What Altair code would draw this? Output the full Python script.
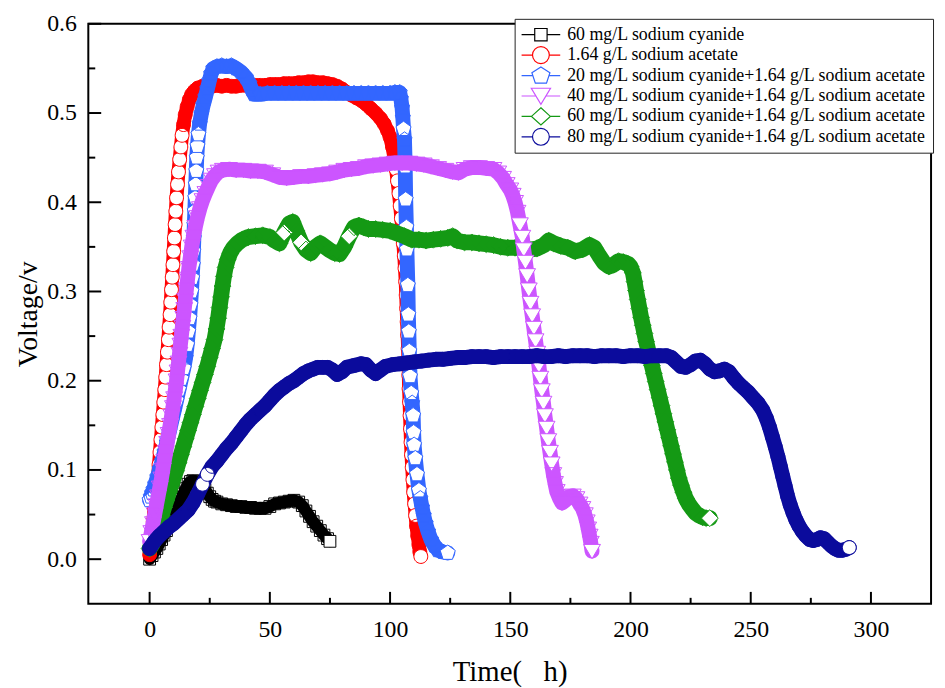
import altair as alt
import pandas as pd

SERIES = [
    "60 mg/L sodium cyanide",
    "1.64 g/L sodium acetate",
    "20 mg/L sodium cyanide+1.64 g/L sodium acetate",
    "40 mg/L sodium cyanide+1.64 g/L sodium acetate",
    "60 mg/L sodium cyanide+1.64 g/L sodium acetate",
    "80 mg/L sodium cyanide+1.64 g/L sodium acetate",
]
COLORS = ["#000000", "#ff0000", "#3366ff", "#cc55ff", "#149914", "#0b0b9c"]

# (time h, voltage V)
black = [(0,0.0),(1,0.004),(2,0.008),(3,0.012),(4,0.017),(5,0.022),(6,0.027),(7,0.032),(8,0.038),(9,0.043),
         (10,0.049),(11,0.055),(12,0.061),(13,0.067),(14,0.073),(15,0.079),(16,0.084),(17,0.087),(18,0.088),(19,0.087),
         (20,0.085),(21,0.083),(22,0.081),(23,0.078),(24,0.074),(25,0.07),(26,0.067),(27,0.065),(28,0.064),(30,0.062),
         (32,0.061),(34,0.06),(36,0.059),(38,0.059),(40,0.058),(42,0.058),(44,0.057),(46,0.057),(48,0.057),(50,0.059),
         (52,0.062),(54,0.063),(56,0.064),(58,0.065),(60,0.066),(62,0.064),(63.5,0.06),(65,0.054),(66.5,0.048),(68,0.042),
         (69.5,0.037),(71,0.032),(72.5,0.027),(74,0.023),(75,0.02)]

red = [(0,0.005),(0.5,0.015),(1,0.028),(1.5,0.042),(2,0.055),(2.5,0.068),(3,0.08),(3.5,0.093),(3.9,0.106),(4.3,0.12),
       (4.7,0.134),(5.1,0.148),(5.5,0.162),(5.9,0.176),(6.3,0.19),(6.7,0.204),(7,0.218),(7.4,0.232),(7.8,0.246),(8.1,0.26),
       (8.5,0.274),(8.8,0.288),(9.1,0.302),(9.4,0.316),(9.7,0.33),(10,0.345),(10.3,0.36),(10.6,0.375),(10.9,0.39),(11.2,0.405),
       (11.6,0.42),(12,0.434),(12.5,0.448),(13,0.462),(13.5,0.475),(14.1,0.487),(14.8,0.498),(15.6,0.507),(16.5,0.515),(17.5,0.521),
       (18.7,0.525),(20,0.528),(22,0.53),(24,0.531),(26,0.53),(28,0.531),(30,0.53),(32,0.531),(34,0.53),(36,0.53),
       (38,0.531),(40,0.531),(42,0.53),(44,0.531),(46,0.531),(48,0.531),(50,0.532),(52,0.532),(54,0.532),(56,0.533),
       (58,0.533),(60,0.533),(62,0.534),(64,0.534),(66,0.535),(68,0.535),(70,0.534),(72,0.534),(74,0.533),(76,0.532),
       (78,0.53),(80,0.527),(82,0.523),(84,0.52),(86,0.517),(88,0.514),(90,0.51),(92,0.505),(94,0.5),(96,0.494),
       (97.5,0.488),(99,0.48),(100,0.473),(101,0.462),(101.8,0.45),(102.5,0.437),(103.1,0.424),(103.7,0.41),(104.2,0.396),(104.7,0.382),
       (105.1,0.368),(105.5,0.354),(105.9,0.34),(106.2,0.326),(106.5,0.311),(106.7,0.296),(106.9,0.281),(107.1,0.266),(107.3,0.251),(107.5,0.236),
       (107.6,0.221),(107.8,0.206),(107.9,0.191),(108.1,0.176),(108.3,0.161),(108.5,0.146),(108.7,0.131),(108.9,0.117),(109.2,0.103),(109.5,0.089),
       (109.8,0.075),(110.2,0.062),(110.6,0.049),(111,0.037),(111.5,0.026),(112,0.016),(112.4,0.008),(112.8,0.003)]

blue = [(0,0.066),(0.5,0.07),(1,0.074),(1.6,0.078),(2.3,0.084),(3.2,0.092),(4.2,0.101),(5.2,0.11),(6.2,0.12),(7.2,0.131),
        (8.2,0.143),(9.2,0.155),(10.2,0.166),(11.2,0.178),(12.2,0.19),(13.2,0.202),(14.2,0.214),(15,0.226),(15.6,0.24),(16.1,0.255),
        (16.6,0.27),(17,0.285),(17.4,0.3),(17.7,0.315),(18,0.33),(18.2,0.345),(18.4,0.36),(18.6,0.375),(18.8,0.39),(19,0.405),
        (19.2,0.42),(19.4,0.435),(19.6,0.45),(19.9,0.463),(20.3,0.476),(20.8,0.488),(21.5,0.499),(22.3,0.509),(23.2,0.518),(24,0.527),
        (24.8,0.536),(25.6,0.544),(26.5,0.55),(28,0.552),(30,0.553),(32,0.552),(34,0.553),(36,0.55),(38,0.546),(40,0.54),
        (41.5,0.533),(42.5,0.526),(43.5,0.521),(46,0.521),(49,0.522),(52,0.522),(55,0.522),(58,0.522),(61,0.522),(64,0.522),
        (67,0.522),(70,0.522),(73,0.522),(76,0.522),(79,0.522),(82,0.522),(85,0.522),(88,0.522),(91,0.522),(94,0.522),
        (97,0.522),(100,0.522),(102,0.523),(104,0.523),(104.5,0.516),(105,0.506),(105.3,0.495),(105.6,0.482),(106,0.47),(106.3,0.44),
        (106.5,0.403),(106.8,0.372),(107,0.347),(107.4,0.307),(107.6,0.274),(107.8,0.255),(108,0.233),(108.3,0.205),(108.8,0.186),(109.2,0.175),
        (109.6,0.161),(109.8,0.142),(110,0.128),(110.5,0.113),(111.2,0.095),(112,0.077),(112.6,0.068),(113.3,0.058),(114,0.049),(114.8,0.04),
        (115.8,0.031),(117,0.022),(118.5,0.015),(120,0.01),(122,0.008),(124,0.007)]

purple = [(0,0.02),(0.7,0.03),(1.4,0.04),(2.1,0.05),(2.8,0.06),(3.5,0.07),(4.2,0.08),(4.9,0.09),(5.5,0.1),(6.1,0.11),
          (6.7,0.12),(7.3,0.13),(7.9,0.14),(8.5,0.15),(9.1,0.16),(9.7,0.17),(10.2,0.18),(10.7,0.19),(11.2,0.2),(11.6,0.21),
          (12,0.22),(12.4,0.23),(12.8,0.24),(13.2,0.25),(13.6,0.26),(14,0.27),(14.4,0.28),(14.8,0.29),(15.3,0.302),(15.8,0.314),
          (16.3,0.326),(16.9,0.338),(17.5,0.35),(18.2,0.361),(19,0.372),(19.9,0.383),(20.9,0.393),(22,0.402),(23.2,0.41),(24.5,0.418),
          (25.8,0.425),(27.2,0.43),(28.7,0.434),(30.5,0.436),(33,0.437),(36,0.436),(39,0.436),(42,0.435),(45,0.435),(48,0.434),
          (51,0.431),(54,0.428),(57,0.427),(60,0.428),(63,0.429),(66,0.429),(69,0.43),(72,0.431),(75,0.432),(78,0.434),
          (81,0.436),(84,0.437),(87,0.438),(90,0.44),(93,0.441),(96,0.442),(99,0.443),(102,0.444),(105,0.444),(108,0.444),
          (111,0.443),(114,0.442),(117,0.44),(120,0.438),(123,0.436),(126,0.434),(128.5,0.433),(131,0.437),(134,0.439),(137,0.439),
          (140,0.438),(143,0.437),(145,0.433),(147,0.427),(148.5,0.42),(150,0.414),(151,0.408),(152,0.4),(153,0.389),(154,0.375),
          (155,0.361),(155.6,0.347),(156.3,0.333),(157,0.318),(157.7,0.302),(158.4,0.287),(159.1,0.273),(159.8,0.259),(160.5,0.245),(161.2,0.231),
          (161.9,0.217),(162.5,0.203),(163.1,0.189),(163.8,0.175),(164.4,0.161),(165.1,0.147),(165.8,0.133),(166.5,0.12),(167.2,0.107),(167.9,0.095),
          (168.6,0.085),(169.3,0.076),(170.5,0.068),(171.5,0.063),(173,0.066),(174.5,0.07),(176,0.071),(177.5,0.068),(178.8,0.062),(180,0.057),
          (181,0.05),(181.8,0.042),(182.4,0.034),(183,0.026),(183.5,0.018),(184,0.009)]

green = [(0,0.012),(1,0.016),(2,0.022),(3,0.03),(4,0.04),(5,0.049),(6,0.058),(7,0.066),(8,0.075),(9,0.083),
         (10,0.091),(11,0.099),(12,0.108),(13,0.117),(14,0.126),(15,0.135),(16,0.144),(17,0.153),(18,0.162),(19,0.171),
         (20,0.18),(21,0.189),(22,0.198),(23,0.207),(24,0.216),(25,0.226),(26,0.236),(27,0.246),(27.8,0.258),(28.5,0.27),
         (29.1,0.282),(29.7,0.294),(30.3,0.306),(30.9,0.317),(31.6,0.327),(32.5,0.336),(33.5,0.343),(34.8,0.349),(36.5,0.354),(38.5,0.358),
         (41,0.361),(44,0.362),(47,0.363),(50,0.361),(52,0.357),(54,0.354),(56,0.366),(58,0.376),(59.5,0.378),(61,0.368),
         (63,0.355),(65,0.347),(67,0.343),(69,0.35),(71,0.354),(73,0.35),(75,0.346),(77,0.343),(79,0.342),(81,0.35),
         (83,0.362),(85,0.372),(87,0.374),(89,0.372),(91,0.37),(94,0.37),(97,0.369),(100,0.368),(103,0.365),(106,0.362),
         (109,0.358),(112,0.358),(115,0.357),(118,0.358),(121,0.359),(124,0.36),(126,0.362),(128,0.357),(131,0.355),(134,0.355),
         (137,0.354),(140,0.353),(143,0.352),(146,0.35),(149,0.349),(152,0.349),(155,0.348),(158,0.347),(161,0.348),(164,0.352),
         (166,0.357),(168,0.354),(171,0.351),(174,0.349),(177,0.345),(180,0.347),(183,0.352),(185,0.349),(187,0.34),(189,0.332),
         (191,0.328),(193,0.33),(195,0.334),(197,0.333),(199,0.331),(200,0.328),(201,0.321),(201.7,0.311),(202.3,0.301),(203,0.291),
         (203.7,0.281),(204.4,0.271),(205.1,0.262),(205.8,0.253),(206.5,0.244),(207.3,0.235),(208.1,0.226),(208.9,0.217),(209.7,0.208),(210.5,0.199),
         (211.3,0.19),(212.1,0.181),(212.9,0.172),(213.7,0.163),(214.5,0.154),(215.3,0.145),(216.1,0.136),(216.9,0.127),(217.7,0.118),(218.5,0.109),
         (219.3,0.1),(220.1,0.091),(221,0.083),(222,0.075),(223,0.068),(224.2,0.062),(225.5,0.057),(227,0.052),(228.5,0.049),(230,0.047),
         (231.5,0.046),(233,0.046)]

navy = [(0,0.012),(2,0.02),(4,0.026),(6,0.031),(8,0.036),(10,0.04),(12,0.045),(14,0.05),(16,0.055),(18,0.063),
        (20,0.073),(22,0.084),(24,0.095),(26,0.104),(28,0.11),(30,0.117),(32,0.124),(34,0.13),(36,0.137),(38,0.144),
        (40,0.151),(42,0.157),(44,0.162),(46,0.167),(48,0.172),(50,0.178),(52,0.184),(54,0.189),(56,0.193),(58,0.197),
        (60,0.2),(62,0.204),(64,0.208),(66,0.211),(68,0.213),(70,0.215),(72,0.215),(74,0.215),(76,0.212),(78,0.207),
        (80,0.21),(82,0.215),(85,0.217),(88,0.219),(90,0.218),(92,0.212),(94,0.208),(96,0.212),(98,0.216),(101,0.218),
        (104,0.219),(107,0.22),(110,0.221),(113,0.222),(116,0.223),(119,0.224),(122,0.224),(125,0.225),(128,0.226),(131,0.226),
        (134,0.227),(137,0.227),(140,0.227),(143,0.226),(146,0.227),(149,0.227),(152,0.227),(155,0.227),(158,0.227),(161,0.228),
        (164,0.227),(167,0.227),(170,0.228),(173,0.227),(176,0.228),(179,0.228),(182,0.228),(185,0.227),(188,0.228),(191,0.228),
        (194,0.228),(197,0.227),(200,0.228),(203,0.228),(206,0.227),(209,0.228),(212,0.228),(215,0.228),(217,0.226),(219,0.221),
        (221,0.216),(223,0.215),(225,0.218),(227,0.222),(229,0.223),(231,0.219),(233,0.213),(235,0.21),(237,0.211),(239,0.213),
        (241,0.21),(243,0.203),(245,0.197),(247,0.192),(249,0.187),(251,0.181),(253,0.175),(255,0.167),(256.5,0.158),(257.8,0.148),
        (259,0.137),(260.2,0.126),(261.3,0.115),(262.3,0.104),(263.3,0.093),(264.3,0.082),(265.3,0.071),(266.4,0.061),(267.6,0.052),(268.8,0.044),
        (270.1,0.037),(271.5,0.031),(273,0.026),(274.5,0.022),(276,0.021),(277.5,0.022),(279,0.024),(280.5,0.023),(282,0.019),(283.5,0.015),
        (285,0.012),(286.5,0.01),(288,0.01),(289.5,0.011),(291,0.013)]

SERIES_DATA = [black, red, blue, purple, green, navy]
DRAW_ORDER = [0, 1, 2, 4, 3, 5]

X_MAJOR = [0, 50, 100, 150, 200, 250, 300]
X_MINOR = [25, 75, 125, 175, 225, 275]
Y_MAJOR = [0.0, 0.1, 0.2, 0.3, 0.4, 0.5, 0.6]
Y_MINOR = [0.05, 0.15, 0.25, 0.35, 0.45, 0.55]

# marker outlines (unit = half of sqrt(size))
MARKERS = [
    "M-0.7,-0.7H0.7V0.7H-0.7Z",
    "M0.82,0A0.82,0.82,0,1,1,-0.82,0A0.82,0.82,0,1,1,0.82,0Z",
    "M0,-0.94L0.894,-0.29L0.553,0.76L-0.553,0.76L-0.894,-0.29Z",
    "M-1,-0.8H1L0,0.9Z",
    "M0,-1L1,0L0,1L-1,0Z",
    "M0.82,0A0.82,0.82,0,1,1,-0.82,0A0.82,0.82,0,1,1,0.82,0Z",
]
BAND = [12, 14, 15, 15, 16, 15]
LEGEND_SYMBOLS = [
    "M-2.25,0H-0.72M0.72,0H2.25M-0.72,-0.72H0.72V0.72H-0.72Z",
    "M-2.25,0H-0.98M0.98,0H2.25M0.98,0A0.98,0.98,0,1,1,-0.98,0A0.98,0.98,0,1,1,0.98,0Z",
    "M-2.25,0H-0.94M0.94,0H2.25M0,-1.0L1.05,-0.32L0.65,0.88L-0.65,0.88L-1.05,-0.32Z",
    "M-2.25,0H-0.58M0.58,0H2.25M-1.12,-0.9H1.12L0,0.98Z",
    "M-2.25,0H-1.1M1.1,0H2.25M0,-1.0L1.1,0L0,1.0L-1.1,0Z",
    "M-2.25,0H-0.98M0.98,0H2.25M0.98,0A0.98,0.98,0,1,1,-0.98,0A0.98,0.98,0,1,1,0.98,0Z",
]

FONT = "Liberation Serif"
TOP = 13
W, H = 850, 598 - TOP
x_scale = alt.Scale(domain=[-25.5, 325], nice=False, zero=False)
y_scale = alt.Scale(domain=[-0.05, 0.6], nice=False, zero=False)

x_axis = alt.Axis(values=X_MAJOR, title="Time(\u00a0\u00a0\u00a0h)", grid=False, ticks=False, tickSize=0,
                  domain=False, labelFont=FONT, labelFontSize=24, labelColor="black", labelPadding=14,
                  titleFont=FONT, titleFontSize=29, titleFontWeight="normal", titleColor="black",
                  titlePadding=16, labelFlush=False)
y_axis = alt.Axis(values=Y_MAJOR, format=".1f", title="Voltage/v", grid=False, ticks=False, tickSize=0,
                  domain=False, labelFont=FONT, labelFontSize=24, labelColor="black", labelPadding=12,
                  titleFont=FONT, titleFontSize=28, titleFontWeight="normal", titleColor="black",
                  titlePadding=4, labelFlush=False)

X = alt.X("t:Q", scale=x_scale, axis=x_axis)
Y = alt.Y("v:Q", scale=y_scale, axis=y_axis)
PX_PER_V = H / 0.65

layers = []
for k in DRAW_ORDER:
    d = pd.DataFrame(SERIES_DATA[k], columns=["t", "v"])
    d["z"] = range(len(d))
    base = alt.Chart(d).encode(x=X, y=Y)
    band = base.mark_line(stroke=COLORS[k], strokeWidth=BAND[k], strokeCap="round",
                          strokeJoin="round").encode(order="z:Q")
    pts = base.transform_window(
        pt="lag(t)", pv="lag(v)", nt="lead(t)", sort=[alt.SortField("z")]
    ).transform_calculate(
        gap=f"sqrt(pow((datum.t - datum.pt) * 2.425, 2) + pow((datum.v - datum.pv) * {PX_PER_V:.1f}, 2))"
    ).mark_point(shape=MARKERS[k], size=289, stroke=COLORS[k], strokeWidth=1, opacity=1,
                 filled=False).encode(
        fill=alt.condition("datum.gap > 11 || datum.nt == null", alt.value("white"), alt.value("transparent"))
    )
    layers += [band, pts]

leg_rows = pd.DataFrame({"series": SERIES, "t": [0.0] * 6, "v": [0.0] * 6})
leg = dict(title=None, orient="none", legendX=430, legendY=16 - (8 + TOP), padding=6, fillColor="white",
           strokeColor="#222222", symbolSize=300, symbolStrokeWidth=1.2, symbolOffset=11,
           labelOffset=17, labelFont=FONT, labelFontSize=18, labelColor="black", rowPadding=0.6,
           clipHeight=20, labelLimit=600, direction="vertical")
legend_layer = alt.Chart(leg_rows).transform_filter("false").mark_point(
    filled=False, size=300, strokeWidth=1.2, opacity=1).encode(
    x=X, y=Y,
    stroke=alt.Stroke("series:N", scale=alt.Scale(domain=SERIES, range=COLORS), legend=alt.Legend(**leg)),
    shape=alt.Shape("series:N", scale=alt.Scale(domain=SERIES, range=LEGEND_SYMBOLS), legend=alt.Legend(**leg)),
)
layers.append(legend_layer)

xmaj = alt.Chart(pd.DataFrame({"t": X_MAJOR})).mark_rule(color="black", strokeWidth=2).encode(
    x=X, y=alt.value(H), y2=alt.value(H - 12))
xmin = alt.Chart(pd.DataFrame({"t": X_MINOR})).mark_rule(color="black", strokeWidth=2).encode(
    x=X, y=alt.value(H), y2=alt.value(H - 6))
ymaj = alt.Chart(pd.DataFrame({"v": Y_MAJOR})).mark_rule(color="black", strokeWidth=2).encode(
    y=Y, x=alt.value(0), x2=alt.value(13))
ymin = alt.Chart(pd.DataFrame({"v": Y_MINOR})).mark_rule(color="black", strokeWidth=2).encode(
    y=Y, x=alt.value(0), x2=alt.value(7))
layers += [xmaj, xmin, ymaj, ymin]

chart = alt.layer(*layers).properties(
    width=W, height=H, autosize="none",
    padding={"left": 81, "top": TOP, "right": 6, "bottom": 82},
    background="white",
).configure_view(stroke="black", strokeWidth=2)

chart.save("out.html", embed_options={"renderer": "svg", "actions": False})
